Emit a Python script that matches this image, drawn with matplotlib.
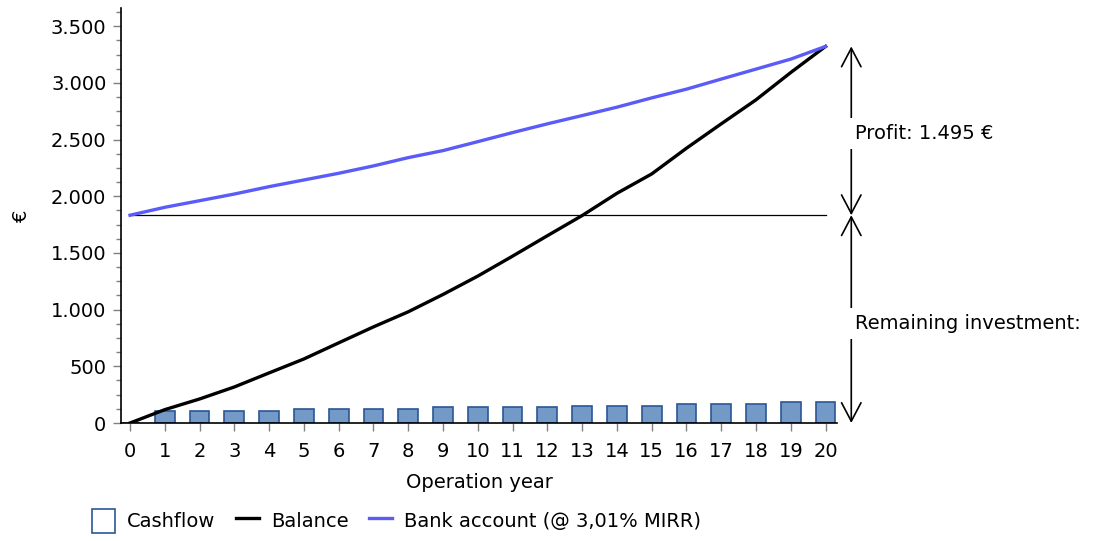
import matplotlib
matplotlib.use("Agg")
import matplotlib.pyplot as plt
from matplotlib.patches import Patch
from matplotlib.lines import Line2D
from matplotlib.ticker import FuncFormatter, MultipleLocator

years = list(range(0, 21))
cashflow = [0, 107, 107, 107, 107, 122, 122, 122, 122, 137, 137,
            137, 137, 154, 154, 154, 169, 169, 169, 184, 184]
balance = [0, 118, 212, 318, 442, 565, 707, 848, 981, 1134, 1296,
           1472, 1652, 1830, 2026, 2197, 2424, 2639, 2851, 3092, 3322]
bank_account = [1833, 1903, 1961, 2020, 2085, 2144, 2203, 2268, 2341, 2403, 2482,
                2562, 2639, 2712, 2786, 2868, 2945, 3034, 3122, 3210, 3322]
investment = 1833
profit_label = "Profit: 1.495 €"
remaining_label = "Remaining investment:"

bar_face = "#7399c6"
bar_edge = "#2b5597"
blue = "#5b5bf7"

plt.rcParams["font.family"] = ["DejaVu Sans"]
plt.rcParams["font.size"] = 14

fig = plt.figure(figsize=(10.94, 5.41), dpi=100)
ax = fig.add_axes([0.1106, 0.2181, 0.6545, 0.7669])

ax.bar(years, cashflow, width=0.57, color=bar_face, edgecolor=bar_edge,
       linewidth=1.2, zorder=2)
ax.plot(years, balance, color="black", lw=2.4, zorder=3)
ax.plot(years, bank_account, color=blue, lw=2.4, zorder=3)
ax.plot([0, 20], [investment, investment], color="black", lw=0.9, zorder=2)

ax.set_xlim(-0.26, 20.33)
ax.set_ylim(0, 3660)

for s in ["top", "right"]:
    ax.spines[s].set_visible(False)
ax.spines["left"].set_linewidth(1.2)
ax.spines["bottom"].set_linewidth(1.2)

ax.set_xticks(years)
ax.yaxis.set_major_locator(MultipleLocator(500))
ax.yaxis.set_minor_locator(MultipleLocator(125))
ax.yaxis.set_major_formatter(FuncFormatter(lambda v, p: f"{int(v):,}".replace(",", ".")))
ax.tick_params(axis="y", which="major", length=5.5, width=1, color="#808080", pad=5)
ax.tick_params(axis="y", which="minor", length=3.5, width=1, color="#808080")
ax.tick_params(axis="x", length=6, width=1, color="#808080", pad=8)

ax.set_xlabel("Operation year", labelpad=8)
ax.set_ylabel("€", labelpad=14)

# dimension arrows on the right
ax_x = 20.74
arrow_kw = dict(arrowstyle="<->,head_length=0.95,head_width=0.5", color="black", lw=1.2,
                shrinkA=0, shrinkB=0)
ax.annotate("", xy=(ax_x, bank_account[-1]), xytext=(ax_x, investment),
            arrowprops=arrow_kw, annotation_clip=False)
ax.annotate("", xy=(ax_x, investment), xytext=(ax_x, 0),
            arrowprops=arrow_kw, annotation_clip=False)
bbox = dict(facecolor="white", edgecolor="none", pad=4.5)
ax.text(ax_x + 0.12, 2555, profit_label, ha="left", va="center", bbox=bbox, clip_on=False)
ax.text(ax_x + 0.12, 880, remaining_label, ha="left", va="center", bbox=bbox, clip_on=False)

handles = [Patch(facecolor="white", edgecolor=bar_edge, linewidth=1.2),
           Line2D([], [], color="black", lw=2.4),
           Line2D([], [], color=blue, lw=2.4)]
fig.legend(handles, ["Cashflow", "Balance", "Bank account (@ 3,01% MIRR)"],
           loc="center left", bbox_to_anchor=(0.068, 0.037), ncol=3, frameon=False,
           handlelength=1.2, handleheight=1.5, handletextpad=0.6, columnspacing=1.05)

fig.savefig("out.png", dpi=100)
